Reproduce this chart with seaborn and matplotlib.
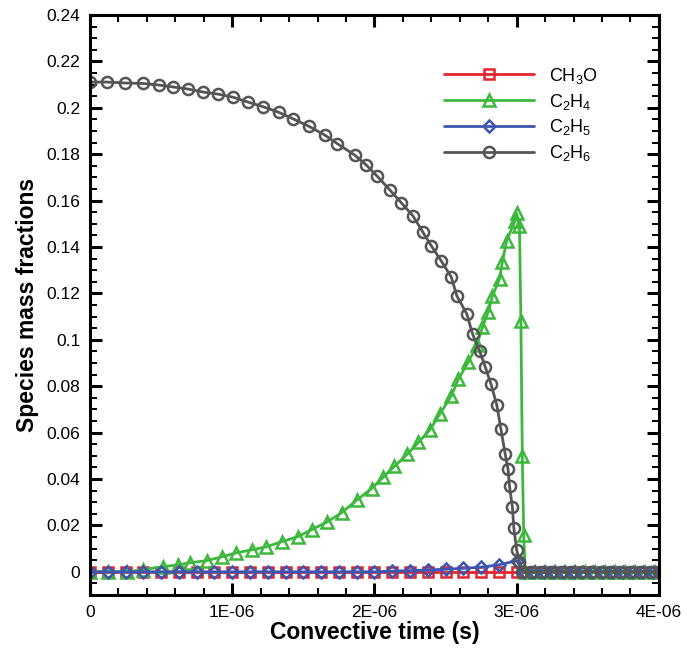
import numpy as np
import pandas as pd
import matplotlib
matplotlib.use("Agg")
import matplotlib.pyplot as plt
import seaborn as sns
from matplotlib.ticker import MultipleLocator, FuncFormatter

# ---------------- data (time in units of 1e-6 s) ----------------
t_c2h6 = [0.0, 0.12, 0.246, 0.373, 0.485, 0.584, 0.689, 0.795, 0.90, 1.005, 1.11, 1.216,
          1.33, 1.43, 1.54, 1.65, 1.74, 1.86, 1.94, 2.02, 2.11, 2.19, 2.27, 2.34,
          2.40, 2.47, 2.54, 2.58, 2.65, 2.69, 2.74, 2.78, 2.82, 2.86, 2.89, 2.92,
          2.94, 2.95, 2.97, 2.98, 3.00, 3.02, 3.04,
          3.10, 3.17, 3.24, 3.31, 3.38, 3.45, 3.52, 3.59, 3.66, 3.73, 3.80, 3.87, 3.94, 4.00]
y_c2h6 = [0.2111, 0.2111, 0.2107, 0.2105, 0.2098, 0.2090, 0.2081, 0.2068, 0.2059, 0.2046,
          0.2025, 0.2005, 0.1980, 0.1952, 0.1920, 0.1883, 0.1845, 0.1797, 0.1755, 0.1705,
          0.1645, 0.1590, 0.1535, 0.1465, 0.1405, 0.1340, 0.1271, 0.1189, 0.1111, 0.1025,
          0.0951, 0.0882, 0.0809, 0.0720, 0.0614, 0.0506, 0.0441, 0.0368, 0.0281, 0.0190,
          0.0095, 0.0043, 0.0,
          0.0, 0.0, 0.0, 0.0, 0.0, 0.0, 0.0, 0.0, 0.0, 0.0, 0.0, 0.0, 0.0, 0.0]

t_c2h4 = [0.0, 0.127, 0.26, 0.37, 0.51, 0.62, 0.70, 0.82, 0.93, 1.03, 1.14, 1.24,
          1.35, 1.46, 1.56, 1.67, 1.77, 1.88, 1.98, 2.06, 2.14, 2.23, 2.31, 2.39,
          2.46, 2.54, 2.59, 2.66, 2.72, 2.76, 2.80, 2.83, 2.88, 2.90, 2.93, 2.99,
          3.00, 3.02, 3.03, 3.04, 3.05, 3.06,
          3.13, 3.20, 3.27, 3.34, 3.41, 3.48, 3.55, 3.62, 3.69, 3.76, 3.83, 3.90, 3.97]
y_c2h4 = [0.0, 0.0, 0.0, 0.0009, 0.0022, 0.0030, 0.0039, 0.0048, 0.0065, 0.0082, 0.0095,
          0.0108, 0.0130, 0.0151, 0.0182, 0.0216, 0.0255, 0.0311, 0.0359, 0.0407, 0.0454,
          0.0506, 0.0558, 0.0612, 0.0680, 0.0757, 0.0830, 0.0904, 0.0977, 0.1055, 0.1120,
          0.1189, 0.1263, 0.1336, 0.1427, 0.1514, 0.1545, 0.1492, 0.1080, 0.0500, 0.0160,
          0.0,
          0.0, 0.0, 0.0, 0.0, 0.0, 0.0, 0.0, 0.0, 0.0, 0.0, 0.0, 0.0, 0.0]

t_rb = [0.0, 0.125, 0.25, 0.375, 0.5, 0.625, 0.75, 0.875, 1.0, 1.125, 1.25, 1.375,
        1.5, 1.625, 1.75, 1.875, 2.0, 2.125, 2.25, 2.375, 2.5, 2.625, 2.75, 2.875, 3.0,
        3.05, 3.12, 3.19, 3.26, 3.33, 3.40, 3.47, 3.54, 3.61, 3.68, 3.75, 3.82, 3.89, 3.96]
y_ch3o = [0.0] * 39
y_c2h5 = [0.0] * 17 + [0.0003, 0.0005, 0.0008, 0.0011, 0.0015, 0.0020, 0.0030, 0.0048] + [0.0] * 14

labels = [r"CH$_3$O", r"C$_2$H$_4$", r"C$_2$H$_5$", r"C$_2$H$_6$"]
x_ticks = [0, 1, 2, 3, 4]
x_ticklabels = ["0", "1E-06", "2E-06", "3E-06", "4E-06"]

# ---------------- plot ----------------
sns.set_style("white")
plt.rcParams["font.family"] = ["Liberation Sans", "DejaVu Sans"]
plt.rcParams["mathtext.default"] = "regular"
plt.rcParams["text.color"] = "black"
plt.rcParams["axes.labelcolor"] = "black"
plt.rcParams["xtick.color"] = "black"
plt.rcParams["ytick.color"] = "black"

fig = plt.figure(figsize=(6.87, 6.5), dpi=100)
ax = fig.add_axes([0.131, 0.0846, 0.828, 0.8923])

series = [
    (t_rb, y_ch3o, "s", "#E3262E", labels[0], 7),
    (t_c2h4, y_c2h4, "^", "#3CB83C", labels[1], 9),
    (t_rb, y_c2h5, "D", "#3D55B0", labels[2], 6),
    (t_c2h6, y_c2h6, "o", "#555555", labels[3], 8),
]
for t, y, m, c, lab, ms in series:
    df = pd.DataFrame({"t": t, "y": y})
    sns.lineplot(data=df, x="t", y="y", ax=ax, sort=False, estimator=None,
                 color=c, lw=2, marker=m, markersize=ms, markerfacecolor="none",
                 markeredgecolor=c, markeredgewidth=1.8, label=lab)

ax.set_xlim(0, 4)
ax.set_ylim(-0.01, 0.24)
ax.set_xticks(x_ticks)
ax.set_xticklabels(x_ticklabels)
ax.xaxis.set_minor_locator(MultipleLocator(0.2))
ax.yaxis.set_major_locator(MultipleLocator(0.02))
ax.yaxis.set_minor_locator(MultipleLocator(0.005))
ax.yaxis.set_major_formatter(FuncFormatter(lambda v, p: "%g" % round(v, 4)))

ax.tick_params(which="both", direction="in", top=True, right=True, bottom=True, left=True,
               colors="black", labelcolor="black")
ax.tick_params(which="major", length=8.5, width=2.2, labelsize=12.5, pad=7)
ax.tick_params(which="minor", length=5, width=1.4)
for s in ax.spines.values():
    s.set_color("black")
    s.set_linewidth(2.2)

ax.set_xlabel("Convective time (s)", fontsize=16.5, fontweight="bold", labelpad=1,
              color="black")
ax.set_ylabel("Species mass fractions", fontsize=16.5, fontweight="bold", labelpad=5,
              color="black")

leg = ax.legend(loc="upper left", bbox_to_anchor=(0.61, 0.925), frameon=False,
                fontsize=13, handlelength=5.0, handletextpad=0.8, labelspacing=0.32,
                borderaxespad=0)
for txt in leg.get_texts():
    txt.set_color("black")

fig.savefig("out.png", dpi=100)
